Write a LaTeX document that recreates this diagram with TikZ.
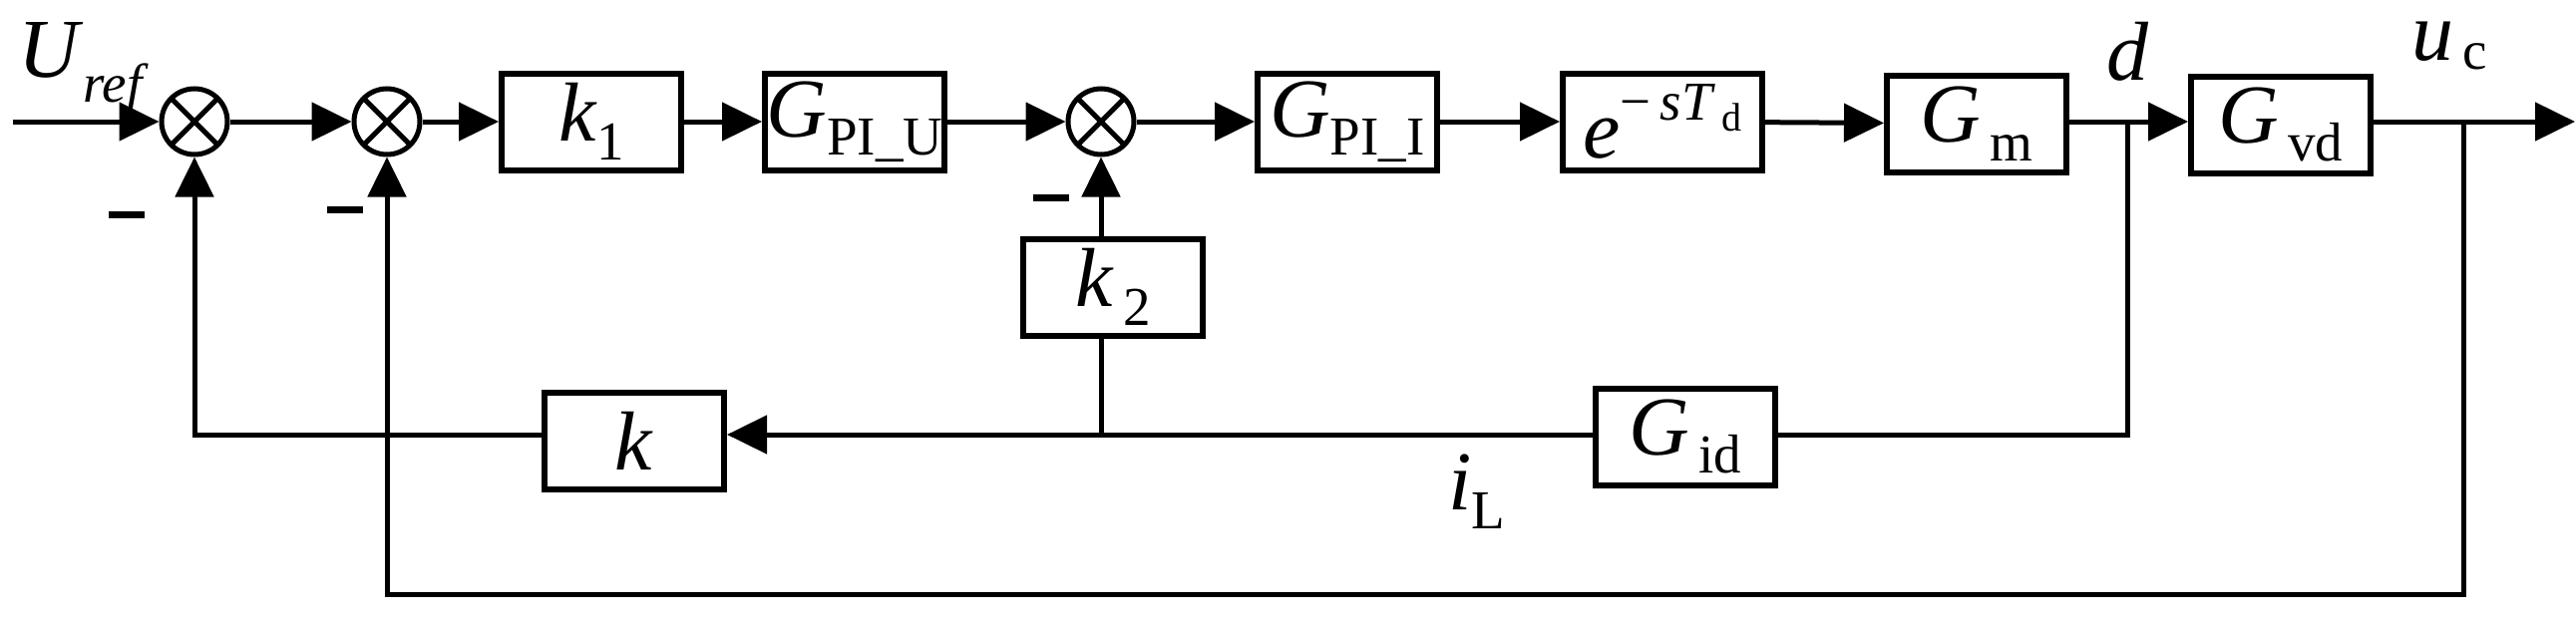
\documentclass[tikz,border=0pt]{standalone}
\usepackage{fontspec}
\setmainfont{Liberation Serif}
\usetikzlibrary{arrows.meta}
\newcommand\bigf{\fontsize{84}{84}\selectfont}
\newcommand\mysb[1]{\raisebox{-0.22em}{\fontsize{55}{55}\selectfont #1}}
\begin{document}
\begin{tikzpicture}[x=1pt,y=-1pt,
  blk/.style={draw,line width=6pt,minimum width=180pt,minimum height=97pt,inner sep=0pt,font=\bigf},
  sum/.style={draw,circle,line width=5pt,minimum size=66pt,inner sep=0pt,
    path picture={\draw[line width=5pt] (path picture bounding box.north west)--(path picture bounding box.south east)
      (path picture bounding box.north east)--(path picture bounding box.south west);}},
  ln/.style={line width=5pt},
  ar/.style={ln,-{Triangle[length=40pt,width=38pt]}},
  lab/.style={font=\bigf,inner sep=0pt},
  mn/.style={draw=none,fill=black,minimum width=36pt,minimum height=7pt,inner sep=0pt}]
\useasboundingbox (0,0) rectangle (2583,624);
\node[sum] (s1) at (195,122) {};
\node[sum] (s2) at (388,122) {};
\node[sum] (s3) at (1104,122) {};
\node[blk] (k1) at (593,122) {\textit{k}\mysb{1}};
\node[blk] (gpu) at (857,122) {\textit{G}\mysb{PI\_U}};
\node[blk] (gpi) at (1351,122) {\textit{G}\mysb{PI\_I}};
\node[blk,minimum width=200pt] (ex) at (1667,122) {\textit{e}\raisebox{0.45em}{\fontsize{55}{55}\selectfont −\,\textit{sT}\raisebox{-0.2em}{\fontsize{40}{40}\selectfont\,d}}};
\node[blk] (gm) at (1982,124) {\textit{G}\mysb{\,m}};
\node[blk] (gvd) at (2287,125) {\textit{G}\mysb{\,vd}};
\node[blk] (k2) at (1116,288) {\textit{k}\mysb{\,2}};
\node[blk] (kk) at (636,442) {\textit{k}};
\node[blk] (gid) at (1690,438) {\textit{G}\mysb{\,id}};
\coordinate (in) at (13,122);
\coordinate (out) at (2582,122);
\coordinate (dj) at (2133,122);
\coordinate (dd) at (2133,436);
\coordinate (kj) at (1104,436);
\coordinate (kl) at (195,436);
\coordinate (uj) at (2470,122);
\coordinate (ud) at (2470,596);
\coordinate (ul) at (388,596);
\draw[ar] (in) -- (s1);
\draw[ar] (s1) -- (s2);
\draw[ar] (s2) -- (k1);
\draw[ar] (k1) -- (gpu);
\draw[ar] (gpu) -- (s3);
\draw[ar] (s3) -- (gpi);
\draw[ar] (gpi) -- (ex);
\draw[ar] (ex) -- (gm);
\draw[ar] (gm.east |- dj) -- (gvd.west |- dj);
\draw[ar] (gvd.east |- uj) -- (out);
\draw[ln] (dj) -- (dd) -- (gid.east |- dd);
\draw[ar] (gid.west |- dd) -- (kk.east |- dd);
\draw[ar] (kk.west |- kl) -- (kl) -- (s1.south);
\draw[ln] (kj) -- (k2.south -| kj);
\draw[ar] (k2.north -| kj) -- (s3.south);
\draw[ar] (uj) -- (ud) -- (ul) -- (s2.south);
\node[mn] (m1) at (127,215) {};
\node[mn] (m2) at (346,210) {};
\node[mn] (m3) at (1054,198) {};
\node[lab,anchor=north west] (uref) at (18,22) {\textit{U}\raisebox{-0.3em}{\fontsize{55}{55}\selectfont\textit{ref}}};
\node[lab,anchor=north west] (dl) at (2112,22) {\textit{d}};
\node[lab,anchor=north west] (uc) at (2418,22) {\textit{u}\raisebox{-0.1em}{\fontsize{55}{55}\selectfont\,c}};
\node[lab,anchor=north west] (il) at (1452,456) {\textit{i}\mysb{L}};
\end{tikzpicture}
\end{document}
